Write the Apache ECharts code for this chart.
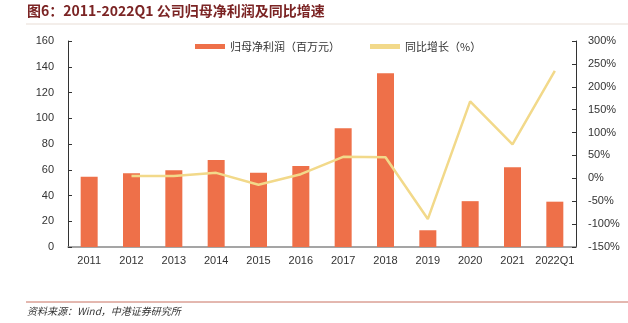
<!DOCTYPE html>
<html><head><meta charset="utf-8">
<script src="https://cdn.jsdelivr.net/npm/echarts@6/dist/echarts.min.js"></script>
<style>html,body{margin:0;padding:0;background:#fff}#c{width:628px;height:323px}</style>
</head><body><div id="c"></div>
<script>
const categories = ['2011','2012','2013','2014','2015','2016','2017','2018','2019','2020','2021','2022Q1'];
const netProfit = [54.5, 57.3, 59.7, 67.6, 57.7, 62.9, 92.2, 134.9, 13.0, 35.6, 61.9, 35.2];
const yoyGrowth = [null, 5, 5, 12, -14, 9, 47, 46, -89, 168, 74, 235];
const leftTicks = [0, 20, 40, 60, 80, 100, 120, 140, 160];
const rightTicks = [-150, -100, -50, 0, 50, 100, 150, 200, 250, 300];

const chart = echarts.init(document.getElementById('c'));
const font = '"Liberation Sans", Arial, sans-serif';
chart.setOption({
  animation: false,
  graphic: [
    {type:'text', left: 27, top: 4, style:{text:'图6：2011-2022Q1 公司归母净利润及同比增速', font:'bold 14px "Noto Sans CJK SC", sans-serif', fill:'#7b2424'}},
    {type:'line', shape:{x1:26, y1:24, x2:628, y2:24}, style:{stroke:'#e8ddd5', lineWidth:1}},
    {type:'line', shape:{x1:26, y1:302, x2:628, y2:302}, style:{stroke:'#c87060', lineWidth:1}},
    {type:'text', left: 27, top: 306, style:{text:'资料来源：Wind，中港证券研究所', font:'italic 10px "Noto Sans CJK SC", sans-serif', fill:'#333'}}
  ],
  legend: {
    top: 36, left: 190, itemGap: 30, itemWidth: 30, itemHeight: 5,
    textStyle:{fontSize: 11, color:'#333', fontFamily:'"Noto Sans CJK SC", sans-serif'},
    data: [{name:'归母净利润（百万元）', icon:'rect'}, {name:'同比增长（%）', icon:'rect'}]
  },
  grid: {left: 68, right: 52, top: 41, bottom: 76},
  xAxis: {
    type:'category', data: categories,
    axisLine:{lineStyle:{color:'#888', width:1.5}},
    axisTick:{inside:true, length:4, lineStyle:{color:'#555'}},
    axisLabel:{color:'#333', fontSize:11, fontFamily:font, margin:8, interval:0}
  },
  yAxis: [
    {type:'value', min:0, max:160, interval:20, splitLine:{show:false},
     axisLine:{show:true, lineStyle:{color:'#333'}},
     axisTick:{show:true, inside:true, length:4, lineStyle:{color:'#333'}},
     axisLabel:{color:'#333', fontSize:11, fontFamily:font, margin:14}},
    {type:'value', min:-150, max:300, interval:50, splitLine:{show:false},
     axisLine:{show:true, lineStyle:{color:'#333'}},
     axisTick:{show:true, inside:true, length:4, lineStyle:{color:'#333'}},
     axisLabel:{color:'#333', fontSize:11, fontFamily:font, margin:12, formatter:'{value}%'}}
  ],
  series: [
    {name:'归母净利润（百万元）', type:'bar', data: netProfit, barWidth:17,
     itemStyle:{color:'#ee7049'}},
    {name:'同比增长（%）', type:'line', yAxisIndex:1, data: yoyGrowth, symbol:'none',
     lineStyle:{color:'#f2d98a', width:2.5}, itemStyle:{color:'#f2d98a'}}
  ]
});
</script></body></html>
